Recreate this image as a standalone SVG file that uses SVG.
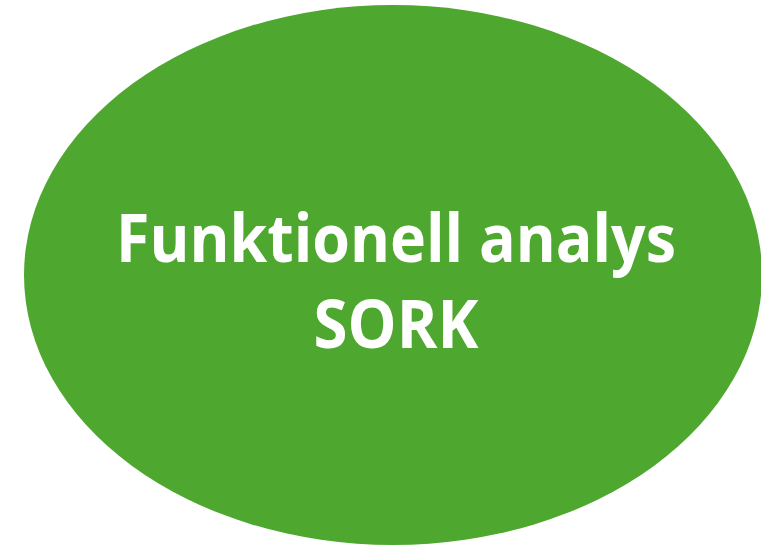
<svg xmlns="http://www.w3.org/2000/svg" width="761" height="547" viewBox="0 0 761 547">
<style>
.lbl{font-family:"Open Sans","Liberation Sans",sans-serif;font-weight:700;fill:#ffffff;text-anchor:middle;}
</style>
<rect width="761" height="547" fill="#ffffff"/>
<g id="node-sork">
<ellipse cx="393" cy="275" rx="369" ry="270" fill="#4EA72E"/>
<text class="lbl" x="396" y="262" font-size="66" textLength="560" lengthAdjust="spacingAndGlyphs">Funktionell analys</text>
<text class="lbl" x="396" y="348" font-size="66" textLength="165" lengthAdjust="spacingAndGlyphs">SORK</text>
</g>
</svg>
